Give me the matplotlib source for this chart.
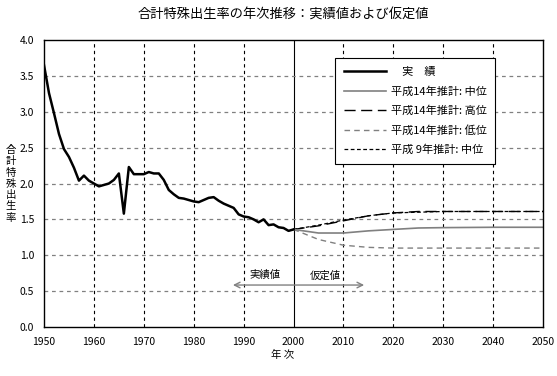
import numpy as np
import matplotlib
matplotlib.use('Agg')
import matplotlib.pyplot as plt
from matplotlib.lines import Line2D

plt.rcParams['font.family'] = ['Noto Sans CJK JP', 'DejaVu Sans']

# actual total fertility rate 1950-2000
years_actual = list(range(1950, 2001))
tfr_actual = [3.65, 3.26, 2.98, 2.69, 2.48, 2.37, 2.22, 2.04, 2.11, 2.04,
              2.00, 1.96, 1.98, 2.00, 2.05, 2.14, 1.58, 2.23, 2.13, 2.13,
              2.13, 2.16, 2.14, 2.14, 2.05, 1.91, 1.85, 1.80, 1.79, 1.77,
              1.75, 1.74, 1.77, 1.80, 1.81, 1.76, 1.72, 1.69, 1.66, 1.57,
              1.54, 1.53, 1.50, 1.46, 1.50, 1.42, 1.43, 1.39, 1.38, 1.34,
              1.36]

# projections
years_proj = [2000, 2005, 2010, 2015, 2020, 2025, 2030, 2040, 2050]
h14_mid = [1.36, 1.31, 1.31, 1.34, 1.36, 1.38, 1.385, 1.39, 1.39]
h14_high = [1.36, 1.41, 1.48, 1.55, 1.59, 1.61, 1.61, 1.61, 1.61]
h14_low = [1.36, 1.22, 1.14, 1.11, 1.10, 1.10, 1.10, 1.10, 1.10]
h9_mid = [1.36, 1.42, 1.49, 1.55, 1.59, 1.60, 1.61, 1.61, 1.61]

legend_labels = ['　実　績', '平成14年推計: 中位', '平成14年推計: 高位',
                 '平成14年推計: 低位', '平成 9年推計: 中位']
ylabel_chars = '合計特殊出生率'

fig = plt.figure(figsize=(5.57, 3.76), dpi=100)
ax = fig.add_axes([0.079, 0.1303, 0.896, 0.7633])

# grid
for x in range(1960, 2050, 10):
    if x == 2000:
        ax.axvline(x, color='black', lw=0.8, zorder=1)
    else:
        ax.axvline(x, color='black', lw=0.8, ls=(0, (3, 3)), zorder=1)
for y in np.arange(0.5, 4.0, 0.5):
    ax.axhline(y, color='#808080', lw=0.9, ls=(0, (3, 3)), zorder=1)

ax.plot(years_proj, h14_low, color='#808080', lw=1.0, ls=(0, (4, 3)), zorder=2)
ax.plot(years_proj, h9_mid, color='black', lw=0.9, ls=(0, (3, 2)), zorder=2)
ax.plot(years_proj, h14_high, color='black', lw=1.0, ls=(0, (8, 4)), zorder=2)
ax.plot(years_proj, h14_mid, color='#808080', lw=1.2, zorder=2)
ax.plot(years_actual, tfr_actual, color='black', lw=1.8, zorder=3)

# arrow
ax.annotate('', xy=(1987.3, 0.585), xytext=(2014.7, 0.585),
            arrowprops=dict(arrowstyle='<->', color='#808080', lw=1.0))
ax.text(1994.3, 0.72, '実績値', ha='center', va='center', fontsize=7.5)
ax.text(2006.3, 0.72, '仮定値', ha='center', va='center', fontsize=7.5)

ax.set_xlim(1950, 2050)
ax.set_ylim(0, 4.0)
ax.set_xticks(range(1950, 2051, 10))
ax.set_yticks(np.arange(0, 4.01, 0.5))
ax.set_yticklabels(['%.1f' % v for v in np.arange(0, 4.01, 0.5)])
ax.tick_params(length=0, labelsize=7.5, pad=7)
for s in ax.spines.values():
    s.set_linewidth(1.0)

handles = [Line2D([], [], color='black', lw=1.8),
           Line2D([], [], color='#808080', lw=1.2),
           Line2D([], [], color='black', lw=1.0, ls=(0, (8, 4))),
           Line2D([], [], color='#808080', lw=1.0, ls=(0, (4, 3))),
           Line2D([], [], color='black', lw=0.9, ls=(0, (3, 2)))]
leg = ax.legend(handles, legend_labels, loc='upper left',
                bbox_to_anchor=(0.583, 0.937), fontsize=8, fancybox=False,
                edgecolor='black', framealpha=1, handlelength=3.8,
                borderpad=0.8, labelspacing=0.8, handletextpad=0.4,
                borderaxespad=0)
leg.get_frame().set_linewidth(0.8)
leg.set_zorder(5)

fig.text(0.508, 0.962, '合計特殊出生率の年次推移：実績値および仮定値',
         ha='center', va='center', fontsize=9.5)
for i, ch in enumerate(ylabel_chars):
    fig.text(0.02, 0.601 - i * 0.030, ch, ha='center', va='center', fontsize=7.5)
fig.text(0.508, 0.055, '年 次', ha='center', va='center', fontsize=7.5)

fig.savefig('out.png', dpi=100)
